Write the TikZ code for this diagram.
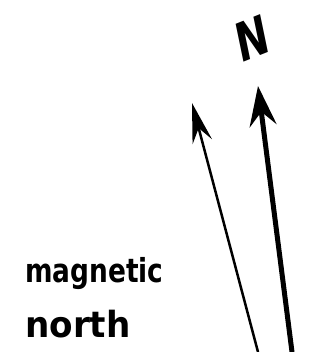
\documentclass[tikz,border=0pt]{standalone}
\usepackage{fontspec}
\setmainfont{DejaVu Sans}
\usetikzlibrary{arrows.meta, positioning}

\begin{document}
\begin{tikzpicture}[
      x=1pt, y=-1pt,
      lab/.style={font=\fontsize{33}{38}\selectfont\bfseries, inner sep=0pt},
      pointer/.style={line cap=round, -{Stealth[inset=14pt, round]}}
    ]
    \useasboundingbox (0,0) rectangle (335,352);
    \node[lab, font=\fontsize{54}{58}\selectfont\bfseries, xscale=0.72, rotate=16] (north) at (252,38) {N};
    \node[lab, anchor=base west, xscale=0.8] (magl) at (25,282) {magnetic};
    \node[lab, anchor=base west, font=\fontsize{36}{40}\selectfont\bfseries, xscale=0.95] (magn) at (25,337) {north};
    % true north and magnetic north
    \coordinate (tbase) at (292,352);
    \coordinate (ttip) at (258,86);
    \coordinate (mbase) at (258,352);
    \coordinate (mtip) at (192,103);
    \draw[pointer, line width=5pt, arrows={-{Stealth[length=40pt, width=27pt, inset=14pt]}}] (tbase) -- (ttip);
    \draw[pointer, line width=2.5pt, arrows={-{Stealth[length=40pt, width=20pt, inset=14pt]}}] (mbase) -- (mtip);
\end{tikzpicture}
\end{document}
